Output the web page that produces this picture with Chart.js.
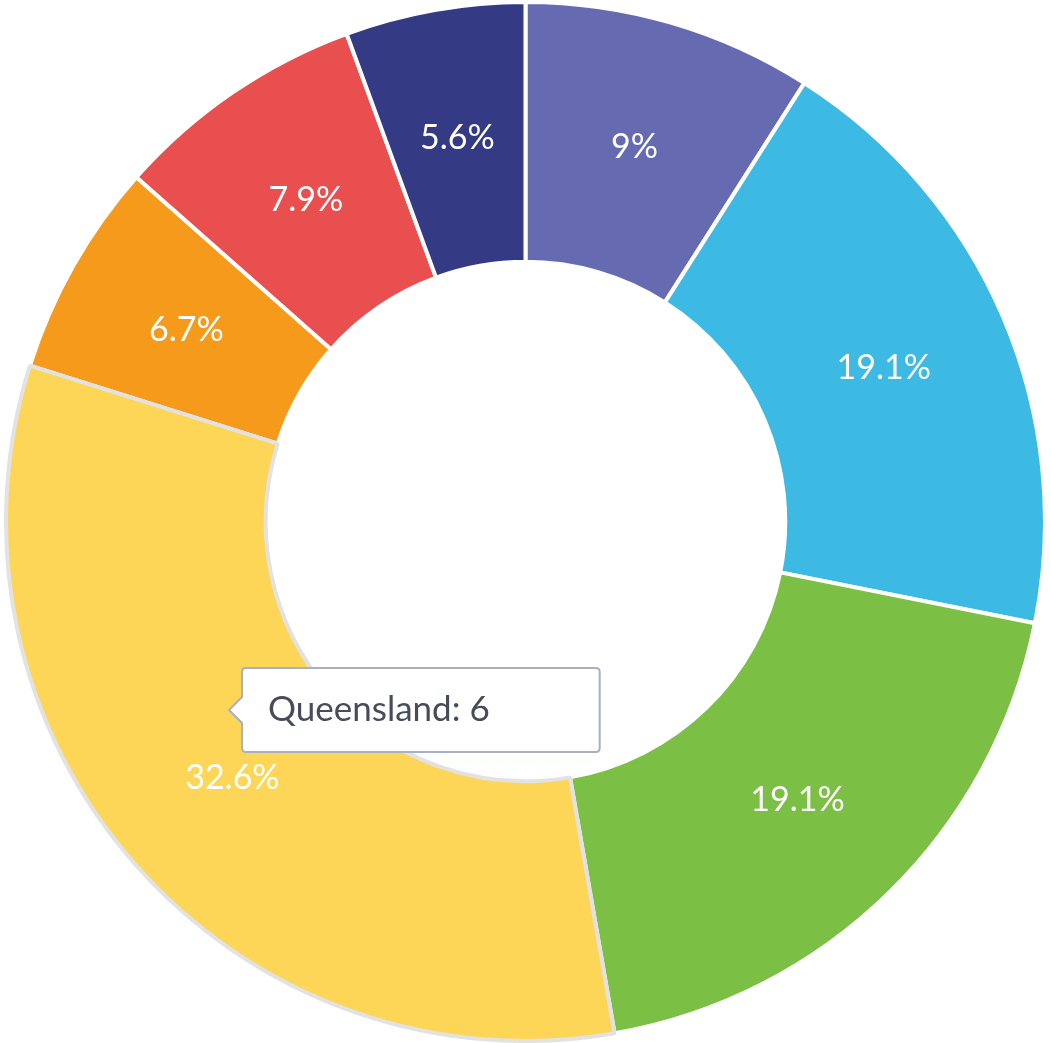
<!DOCTYPE html>
<html>
<head>
<meta charset="utf-8">
<script src="https://cdn.jsdelivr.net/npm/chart.js@4"></script>
<style>
  html, body { margin: 0; padding: 0; background: #ffffff; }
  #wrap { width: 1051px; height: 1043px; position: relative; }
</style>
</head>
<body>
<div id="wrap"><canvas id="c"></canvas></div>
<script>
const labels = ['New South Wales', 'Victoria', 'South Australia', 'Queensland', 'Western Australia', 'Tasmania', 'Northern Territory'];
const values = [1.66, 3.52, 3.52, 6, 1.23, 1.45, 1.03];
const colors = ['#666BB1', '#3CBAE4', '#7BBF45', '#FED657', '#F69A1C', '#E94F4F', '#343A84'];
const activeIndex = 3;

const pctLabels = {
  id: 'pctLabels',
  afterDatasetsDraw(chart) {
    const ctx = chart.ctx;
    const meta = chart.getDatasetMeta(0);
    const total = values.reduce((a, b) => a + b, 0);
    ctx.save();
    ctx.font = '34px Lato';
    ctx.fillStyle = '#ffffff';
    ctx.textAlign = 'center';
    ctx.textBaseline = 'middle';
    meta.data.forEach((arc, i) => {
      const p = arc.tooltipPosition();
      const pct = Math.round(values[i] / total * 1000) / 10;
      ctx.fillText(pct + '%', p.x, p.y);
    });
    ctx.restore();
  }
};

Chart.Tooltip.positioners.pointer = function () {
  return { x: 229, y: 710 };
};

const chart = new Chart(document.getElementById('c'), {
  type: 'doughnut',
  data: {
    labels: labels,
    datasets: [{
      data: values,
      backgroundColor: colors,
      hoverBackgroundColor: colors,
      borderColor: '#ffffff',
      borderWidth: 4,
      hoverBorderColor: '#e2e2e2',
      hoverBorderWidth: 4,
      hoverOffset: 0
    }]
  },
  options: {
    responsive: true,
    maintainAspectRatio: false,
    animation: false,
    cutout: '50%',
    layout: { padding: 0 },
    events: [],
    plugins: {
      legend: { display: false },
      tooltip: {
        enabled: true,
        position: 'pointer',
        xAlign: 'left',
        yAlign: 'center',
        backgroundColor: '#ffffff',
        borderColor: '#a9b0c2',
        borderWidth: 2,
        cornerRadius: 4,
        caretSize: 13,
        caretPadding: 0,
        displayColors: false,
        bodyColor: '#474c5c',
        bodyFont: { family: 'Lato', size: 35 },
        titleMarginBottom: 0,
        padding: { left: 26, right: 110, top: 21, bottom: 21 },
        callbacks: {
          title: () => [],
          label: (item) => item.label + ': ' + item.raw
        }
      }
    }
  },
  plugins: [pctLabels]
});

chart.setActiveElements([{ datasetIndex: 0, index: activeIndex }]);
chart.tooltip.setActiveElements([{ datasetIndex: 0, index: activeIndex }], { x: 229, y: 710 });
chart.update();
</script>
</body>
</html>
